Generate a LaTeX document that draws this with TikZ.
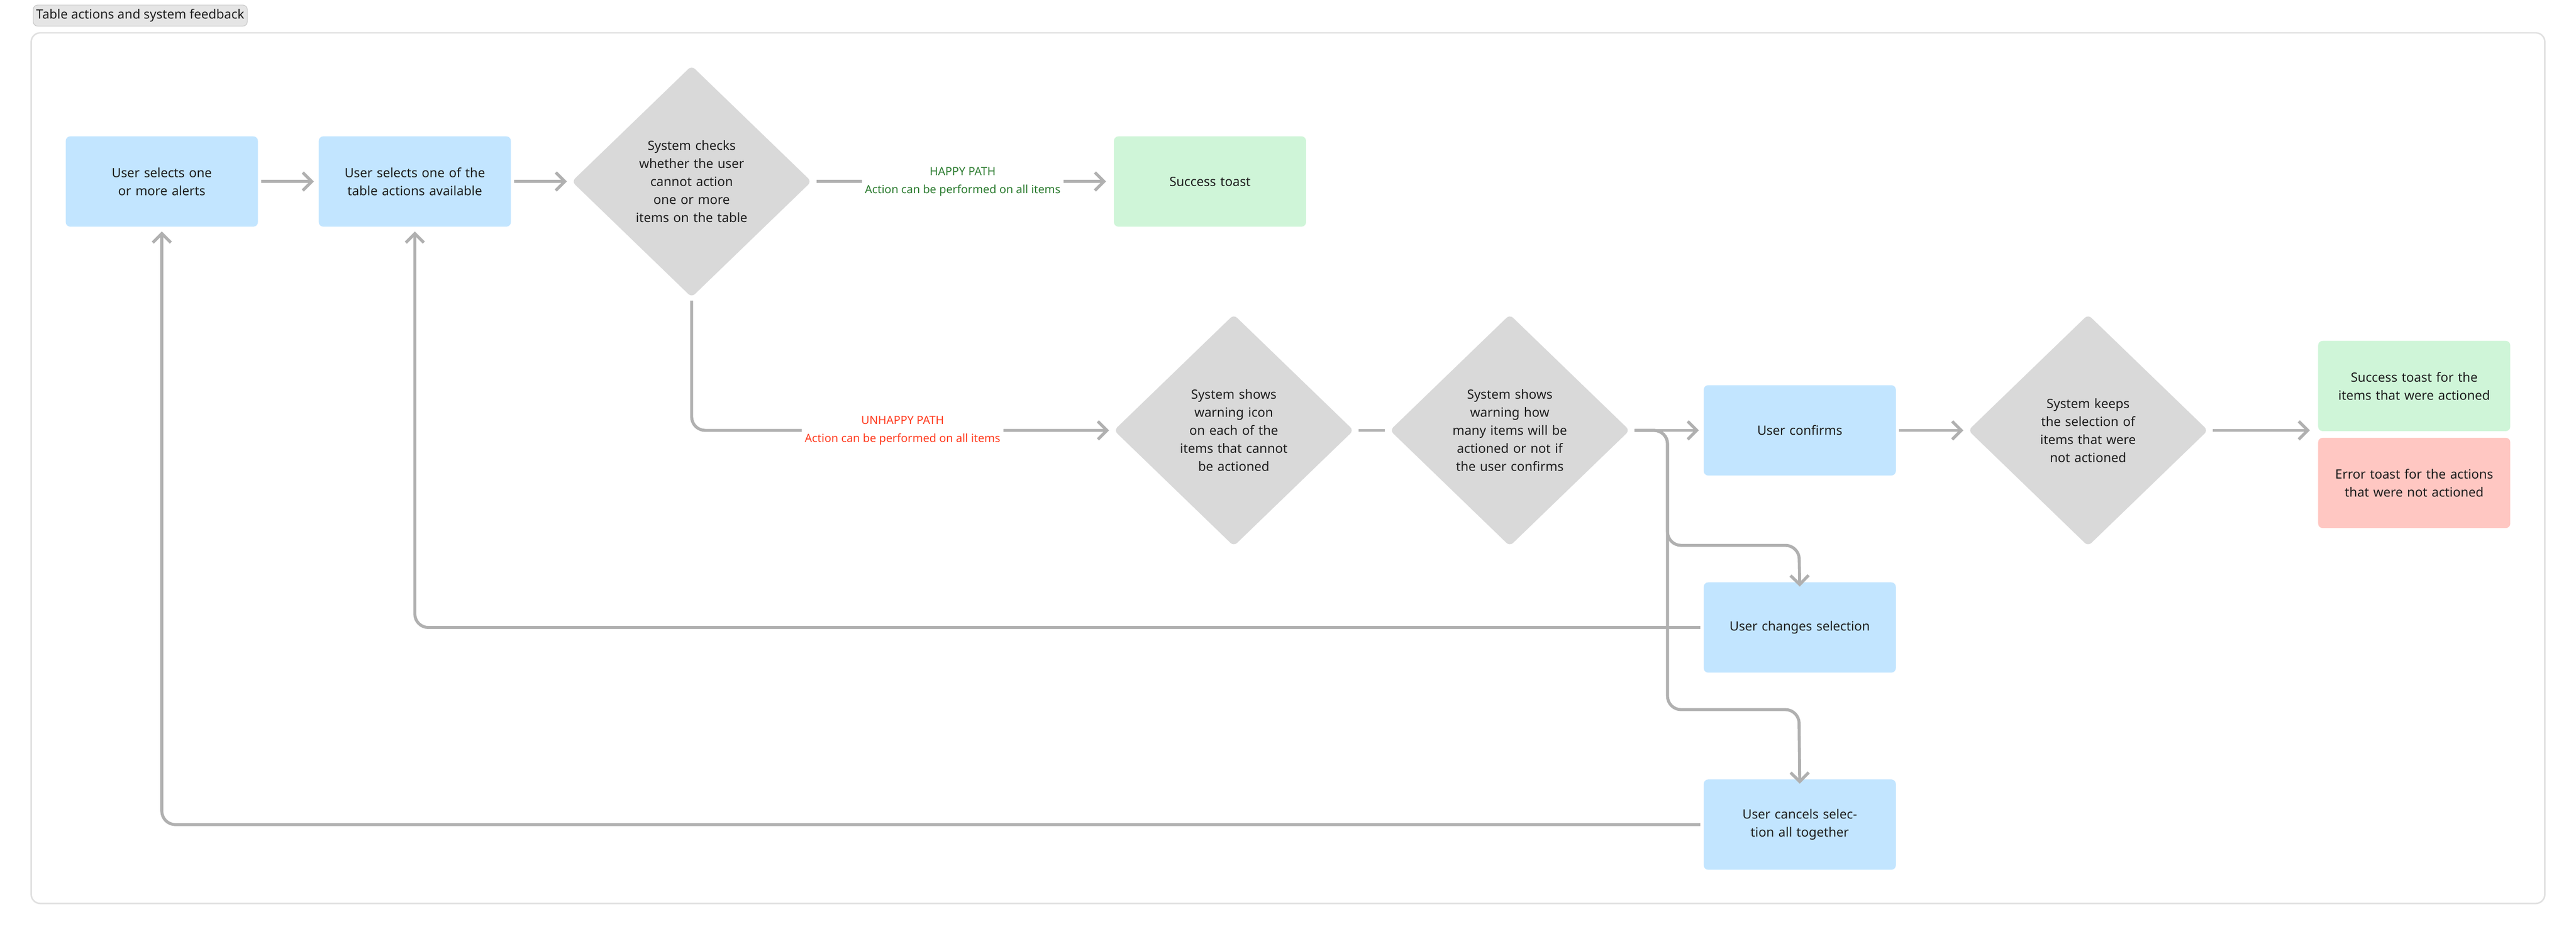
\documentclass[tikz,border=0pt]{standalone}
\usepackage{fontspec}
\setmainfont{Noto Sans}
\usetikzlibrary{shapes.geometric,arrows.meta,positioning}
\definecolor{bxblue}{HTML}{C2E5FF}
\definecolor{bxgreen}{HTML}{CFF5D8}
\definecolor{bxred}{HTML}{FFC7C2}
\definecolor{dgray}{HTML}{D9D9D9}
\definecolor{lgray}{HTML}{B0B0B0}
\definecolor{txt}{HTML}{1E1E1E}
\definecolor{happy}{HTML}{2E7D32}
\definecolor{unhappy}{HTML}{FF3B1F}
\tikzset{
  box/.style={rectangle, rounded corners=3pt, minimum width=127.7pt, minimum height=60pt, text width=118pt, align=center, font=\fontsize{8.5}{12}\selectfont, text=txt},
  dia/.style={diamond, fill=dgray, rounded corners=3pt, minimum width=159.4pt, minimum height=154pt, inner sep=0pt, text width=80pt, align=center, font=\fontsize{8.5}{12}\selectfont, text=txt},
  conn/.style={draw=lgray, line width=2pt, rounded corners=9pt},
  arr/.style={conn, -{Straight Barb[length=6pt, width=12pt, line width=2pt]}},
  lbl/.style={fill=white, align=center, font=\bfseries\fontsize{7.5}{12}\selectfont, inner sep=2pt}
}
\begin{document}
\begin{tikzpicture}[x=1.0918pt,y=-1.0918pt]
\useasboundingbox (0,0) rectangle (1568,569.7);
\draw[draw=black!12, line width=1pt, rounded corners=6pt] (19,20) rectangle (1549,550);
\node[fill=black!10, draw=black!22, rounded corners=3pt, inner sep=2pt, anchor=west, minimum height=14pt, font=\fontsize{8.5}{10}\selectfont, text=txt] (title) at (20,9.5) {Table actions and system feedback};

\node[box, fill=bxblue] (A) at (98.5,110.5) {User selects one or more alerts};
\node[box, fill=bxblue] (B) at (252.5,110.5) {User selects one of the table actions available};
\node[dia] (D1) at (421,110.5) {System checks whether the user cannot action one or more items on the table};
\node[box, fill=bxgreen] (S) at (736.5,110.5) {Success toast};
\node[dia] (D2) at (751,262) {System shows warning icon on each of the items that cannot be actioned};
\node[dia] (D3) at (919,262) {System shows warning how many items will be actioned or not if the user confirms};
\node[box, fill=bxblue] (C) at (1095.5,262) {User confirms};
\node[dia] (D4) at (1271,262) {System keeps the selection of items that were not actioned};
\node[box, fill=bxgreen] (T1) at (1469.5,235) {Success toast for the items that were actioned};
\node[box, fill=bxred] (T2) at (1469.5,294) {Error toast for the actions that were not actioned};
\node[box, fill=bxblue] (CH) at (1095.5,382) {User changes selection};
\node[box, fill=bxblue] (CN) at (1095.5,502) {User cancels selection all together};

\coordinate (tt) at (1406,262);
\coordinate (j0) at (1015,262);
\coordinate (k1) at (1095,332);
\coordinate (k2) at (1095,432);

\draw[arr, shorten <=2pt, shorten >=3pt] (A) -- (B);
\draw[arr, shorten <=2pt, shorten >=3pt] (B) -- (D1);
\draw[arr, shorten <=3pt, shorten >=5pt] (D1) -- node[lbl, text=happy] {HAPPY PATH\\Action can be performed on all items} (S);
\draw[arr, shorten <=2pt, shorten >=3pt] (D1.south) |- node[pos=0.75, lbl, text=unhappy] {UNHAPPY PATH\\Action can be performed on all items} (D2.west);
\draw[conn, shorten <=3pt, shorten >=3pt] (D2) -- (D3);
\draw[arr, shorten <=3pt, shorten >=3pt] (D3) -- (C);
\draw[arr, shorten <=3pt] (D3.east) -- (j0) |- (k1) -- ([yshift=-3pt]CH.north);
\draw[arr, shorten <=3pt] (D3.east) -- (j0) |- (k2) -- ([yshift=-3pt]CN.north);
\draw[arr, shorten <=2pt, shorten >=3pt] (C) -- (D4);
\draw[arr, shorten <=3pt] (D4.east) -- (tt);
\draw[arr, shorten <=2pt, shorten >=3pt] (CH.west) -| (B.south);
\draw[arr, shorten <=2pt, shorten >=3pt] (CN.west) -| (A.south);
\end{tikzpicture}
\end{document}
